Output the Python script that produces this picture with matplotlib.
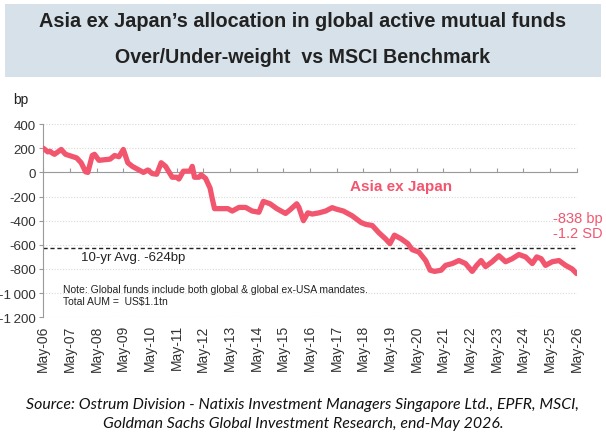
import numpy as np
import pandas as pd
import matplotlib
matplotlib.use("Agg")
import matplotlib.pyplot as plt
from matplotlib.patches import Rectangle
from matplotlib.ticker import FuncFormatter

# Asia ex Japan over/under-weight vs MSCI (bp)
dates = [
    "2006-05", "2006-07", "2006-08", "2006-09", "2006-10", "2007-01", "2007-03",
    "2007-08", "2007-10", "2007-12", "2008-01", "2008-03", "2008-04", "2008-06",
    "2008-11", "2009-01", "2009-03", "2009-05", "2009-07", "2009-09", "2009-12",
    "2010-02", "2010-04", "2010-06", "2010-08", "2010-10", "2010-12", "2011-03",
    "2011-05", "2011-06", "2011-08", "2011-11", "2011-12", "2012-01", "2012-03",
    "2012-04", "2012-06", "2012-08", "2012-09", "2012-10", "2013-01", "2013-04",
    "2013-06", "2013-09", "2013-12", "2014-03", "2014-06", "2014-08", "2014-11",
    "2015-02", "2015-05", "2015-06", "2015-08", "2015-11", "2015-12", "2016-02",
    "2016-04", "2016-06", "2016-09", "2016-12", "2017-03", "2017-05", "2017-08",
    "2017-12", "2018-04", "2018-06", "2018-09", "2018-12", "2019-03", "2019-05",
    "2019-07", "2019-10", "2020-01", "2020-03", "2020-06", "2020-09", "2020-11",
    "2021-01", "2021-04", "2021-06", "2021-09", "2021-12", "2022-03", "2022-06",
    "2022-08", "2022-10", "2022-12", "2023-03", "2023-06", "2023-09", "2023-12",
    "2024-03", "2024-06", "2024-09", "2024-11", "2025-01", "2025-03", "2025-06",
    "2025-09", "2025-12", "2026-03", "2026-05",
]
values = [
    200, 170, 175, 160, 150, 190, 150,
    120, 80, 5, 0, 140, 150, 100,
    110, 140, 130, 190, 80, 50, 20,
    0, 20, -10, -15, 80, 50, -40,
    -40, -55, 10, 10, 50, -40, -40,
    -20, -50, -130, -220, -300, -300, -300,
    -320, -290, -290, -320, -330, -240, -260,
    -300, -330, -340, -310, -260, -290, -400,
    -335, -345, -335, -320, -292, -305, -320,
    -360, -415, -430, -440, -500, -550, -590,
    -520, -550, -590, -640, -660, -730, -810,
    -820, -810, -770, -755, -730, -755, -820,
    -770, -730, -780, -740, -690, -740, -715,
    -680, -700, -755, -700, -715, -770, -740,
    -730, -770, -800, -838,
]
avg_10yr = -624
tick_years = list(range(2006, 2027))
y_ticks = [400, 200, 0, -200, -400, -600, -800, -1000, -1200]

pink = "#F2566F"
grey_txt = "#333333"

plt.rcParams["font.family"] = ["Liberation Sans", "DejaVu Sans"]

fig = plt.figure(figsize=(6.06, 4.39), dpi=100)
fig.patches.append(Rectangle((0.008, 0.822), 0.984, 0.167, transform=fig.transFigure,
                             facecolor="#D7E1E9", edgecolor="none", zorder=0))
fig.text(0.5, 0.952, "Asia ex Japan\u2019s allocation in global active mutual funds",
         ha="center", va="center", fontsize=14.3, fontweight="bold", color="#222222")
fig.text(0.5, 0.869, "Over/Under-weight  vs MSCI Benchmark",
         ha="center", va="center", fontsize=14.1, fontweight="bold", color="#222222")

ax = fig.add_axes([0.0715, 0.275, 0.880, 0.440])
x = pd.to_datetime(dates)
ax.plot(x, values, color=pink, lw=3.8, solid_capstyle="round", solid_joinstyle="round", zorder=3)
ax.axhline(avg_10yr, color="#222222", lw=1.0, ls=(0, (3, 2)), zorder=2)

tick_dates = pd.to_datetime([f"{yr}-05" for yr in tick_years])
ax.set_xlim(tick_dates[0], tick_dates[-1])
ax.set_ylim(-1200, 400)
ax.set_yticks(y_ticks)
ax.yaxis.set_major_formatter(FuncFormatter(
    lambda v, p: f"{int(v):,}".replace(",", "\u2009")))
ax.grid(axis="y", color="#d9d9d9", lw=0.8, ls=(0, (1, 1.5)))
ax.set_axisbelow(True)

for side in ["top", "right"]:
    ax.spines[side].set_visible(False)
ax.spines["left"].set_color("#9a9a9a")
ax.spines["bottom"].set_position(("data", 0))
ax.spines["bottom"].set_color("#9a9a9a")
ax.set_xticks(tick_dates)
ax.tick_params(axis="x", direction="in", length=3, color="#9a9a9a", labelbottom=False)
ax.tick_params(axis="y", length=3, color="#9a9a9a", labelsize=9.6, labelcolor=grey_txt, pad=2.5)

sec = ax.secondary_xaxis("bottom")
sec.set_xticks(tick_dates)
sec.set_xticklabels([f"May-{yr % 100:02d}" for yr in tick_years], rotation=90)
sec.tick_params(length=0, labelsize=10, labelcolor=grey_txt, pad=5)
sec.spines["bottom"].set_visible(False)

ax.text(-0.043, 1.13, "bp", transform=ax.transAxes, fontsize=10, color="#222222",
        ha="center", va="center")
ax.text(pd.Timestamp("2007-10-01"), avg_10yr - 25, "10-yr Avg. -624bp", fontsize=9.5,
        color="#222222", ha="left", va="top")
ax.text(pd.Timestamp("2007-02-01"), -1015,
        "Note: Global funds include both global & global ex-USA mandates.\nTotal AUM =  US$1.1tn",
        fontsize=7.5, color="#222222", ha="left", va="center", linespacing=1.35)
ax.text(pd.Timestamp("2019-10-01"), -115, "Asia ex Japan", fontsize=11, fontweight="bold",
        color=pink, ha="center", va="center")
ax.text(1.049, 0.475, "-838 bp\n-1.2 SD", transform=ax.transAxes, fontsize=10.5,
        color=pink, ha="right", va="center", linespacing=1.15)

fig.text(0.5, 0.055,
         "Source: Ostrum Division - Natixis Investment Managers Singapore Ltd., EPFR, MSCI,\n"
         "Goldman Sachs Global Investment Research, end-May 2026.",
         ha="center", va="center", fontsize=11.4, style="italic", color="#111111",
         family=["Lato", "DejaVu Sans"], linespacing=1.45)

fig.savefig("out.png", dpi=100)
